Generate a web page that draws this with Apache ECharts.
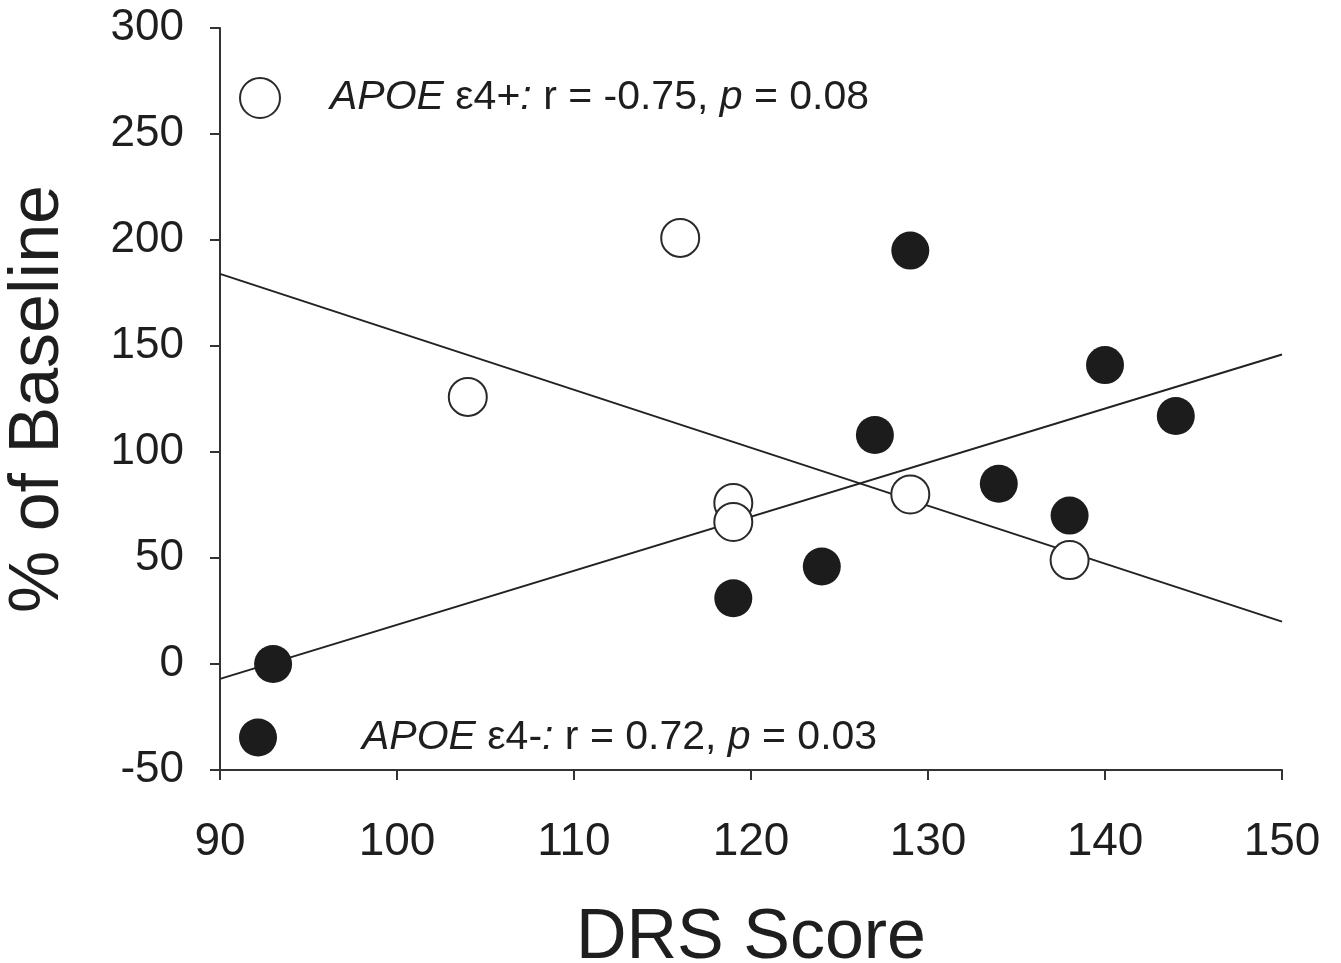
<!DOCTYPE html>
<html>
<head>
<meta charset="utf-8">
<script src="https://cdn.jsdelivr.net/npm/echarts@6/dist/echarts.min.js"></script>
<style>
html, body { margin: 0; padding: 0; background: #fff; }
#main { width: 1341px; height: 963px; }
</style>
</head>
<body>
<div id="main"></div>
<script>
// APOE e4+ (open circles) and APOE e4- (filled circles): [DRS score, % of baseline]
var e4pos = [[104, 126], [116, 201], [119, 76], [119, 67], [129, 80], [138, 49]];
var e4neg = [[93, 0], [119, 31], [124, 46], [127, 108], [129, 195], [134, 85], [138, 70], [140, 141], [144, 117]];
// regression lines, end points
var fitPos = [[90, 184], [150, 20]];
var fitNeg = [[90, -7], [150, 146]];

var xTicks = [90, 150, 10];
var yTicks = [-50, 300, 50];

var font = '"Liberation Sans", Arial, sans-serif';
var ink = '#1e1e1e';

var option = {
    animation: false,
    backgroundColor: '#fff',
    grid: { left: 220, right: 59, top: 28, bottom: 193, outerBoundsMode: 'none', containLabel: false },
    xAxis: {
        type: 'value',
        min: xTicks[0], max: xTicks[1], interval: xTicks[2],
        name: 'DRS Score',
        nameLocation: 'middle',
        nameGap: 134,
        nameTextStyle: { fontSize: 70, color: ink, fontFamily: font },
        axisLine: { onZero: false, lineStyle: { color: '#333', width: 2 } },
        axisTick: { length: 10, lineStyle: { color: '#333', width: 2 } },
        axisLabel: { fontSize: 46, color: ink, fontFamily: font, margin: 49 },
        splitLine: { show: false }
    },
    yAxis: {
        type: 'value',
        min: yTicks[0], max: yTicks[1], interval: yTicks[2],
        name: '% of Baseline',
        nameLocation: 'middle',
        nameGap: 146,
        nameTextStyle: { fontSize: 70, color: ink, fontFamily: font },
        axisLine: { show: true, onZero: false, lineStyle: { color: '#333', width: 2 } },
        axisTick: { show: true, length: 10, lineStyle: { color: '#333', width: 2 } },
        axisLabel: { fontSize: 44, color: ink, fontFamily: font, margin: 36 },
        splitLine: { show: false }
    },
    legend: [{
        data: ['APOE ε4+'],
        left: 234, top: 72,
        itemWidth: 40, itemHeight: 40,
        formatter: function () {
            return '{s|}{i|APOE} ε4+{i|:} r = -0.75, {i|p} = 0.08';
        },
        textStyle: {
            fontSize: 41, color: ink, fontFamily: font,
            rich: {
                s: { width: 45 },
                i: { fontStyle: 'italic', fontSize: 41, color: ink, fontFamily: font }
            }
        }
    }, {
        data: ['APOE ε4-'],
        left: 234, top: 712,
        itemWidth: 38, itemHeight: 38,
        formatter: function () {
            return '{s|}{i|APOE} ε4-{i|:} r = 0.72, {i|p} = 0.03';
        },
        textStyle: {
            fontSize: 41, color: ink, fontFamily: font,
            rich: {
                s: { width: 80 },
                i: { fontStyle: 'italic', fontSize: 41, color: ink, fontFamily: font }
            }
        }
    }],
    series: [{
        name: 'fitPos',
        type: 'line',
        data: fitPos,
        symbol: 'none',
        lineStyle: { color: '#222', width: 2 },
        z: 1
    }, {
        name: 'fitNeg',
        type: 'line',
        data: fitNeg,
        symbol: 'none',
        lineStyle: { color: '#222', width: 2 },
        z: 1
    }, {
        name: 'APOE ε4+',
        type: 'scatter',
        data: e4pos,
        symbol: 'circle',
        symbolSize: 38,
        itemStyle: { color: '#fff', borderColor: '#2a2a2a', borderWidth: 2, opacity: 1 },
        z: 3
    }, {
        name: 'APOE ε4-',
        type: 'scatter',
        data: e4neg,
        symbol: 'circle',
        symbolSize: 38,
        itemStyle: { color: '#1c1c1c', opacity: 1 },
        z: 3
    }]
};

var myChart = echarts.init(document.getElementById('main'));
myChart.setOption(option);
</script>
</body>
</html>
